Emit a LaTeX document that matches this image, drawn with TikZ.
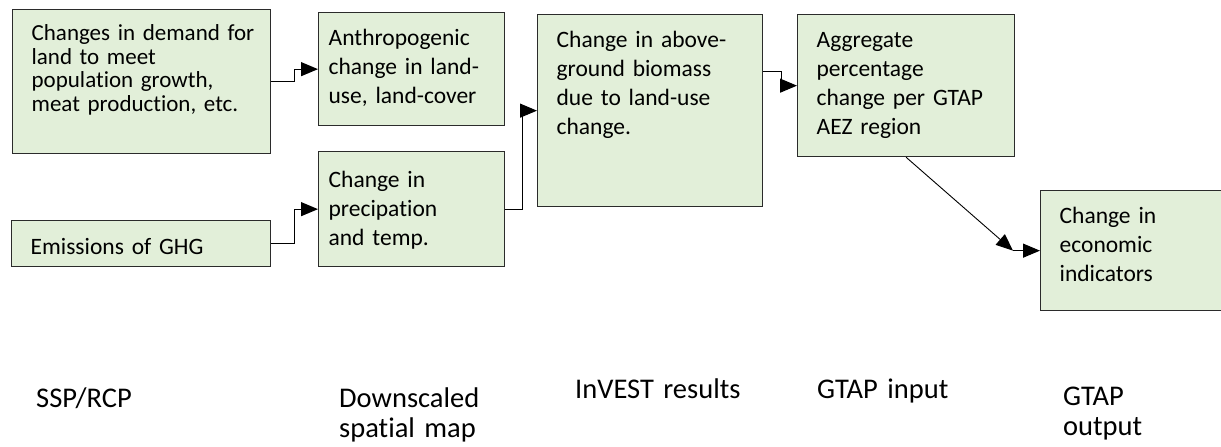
\documentclass[tikz,border=0pt]{standalone}
\usepackage{fontspec}
\setmainfont{Carlito}[Ligatures=NoCommon]
\usetikzlibrary{positioning,arrows.meta,calc}
\definecolor{boxgreen}{HTML}{E2EFD9}
\definecolor{boxline}{HTML}{2B2B2B}
\tikzset{
    block/.style = {
        draw=boxline,
        fill=boxgreen,
        shape=rectangle,
        anchor=north west,
        align=left,
        inner xsep=19pt,
        inner ysep=0pt,
        text height=33pt,
        line width=1.3pt,
        font=\fontsize{23.5}{29}\selectfont
    },
    caption/.style = {
        anchor=base west,
        align=left,
        inner sep=0pt,
        text width=220pt,
        font=\fontsize{28.5}{30}\selectfont
    },
    link/.style = {
        draw,
        ->,
        line width=1.2pt
    },
    >={Triangle[length=17pt,width=14pt]},
}

\begin{document}
\begin{tikzpicture}[x=1pt, y=-1pt]
    \useasboundingbox (0,0) rectangle (1221,447);

    \node[block, text width=220pt, text height=31pt, text depth=113pt, font=\fontsize{23}{23.5}\selectfont] (demand) at (12,9) {\mbox{Changes in demand for}\\land to meet\\population growth,\\\mbox{meat production, etc.}};
    \node[block, text width=221pt, text height=34pt, text depth=12pt] (ghg) at (11,220) {Emissions of GHG};
    \node[block, inner xsep=10pt, text width=166pt, text depth=80pt] (anthro) at (318,12) {Anthropogenic\\change in land-\\use, land-cover};
    \node[block, inner xsep=10pt, text width=166pt, text height=36pt, text depth=79pt] (precip) at (318,151) {Change in\\precipation\\and temp.};
    \node[block, text width=187pt, text depth=159pt] (biomass) at (537,14) {Change in above-\\ground biomass\\due to land-use\\change.};
    \node[block, text width=179pt, text depth=109pt] (agg) at (797,14) {Aggregate\\percentage\\change per GTAP\\AEZ region};
    \node[block, text width=146pt, text depth=87pt] (econ) at (1040,190) {Change in\\economic\\indicators};

    \node[caption] (ssp) at (36,407) {SSP/RCP};
    \node[caption] (downscaled) at (339,407) {Downscaled\\spatial map};
    \node[caption] (invest) at (575,398) {InVEST results};
    \node[caption] (gtapin) at (817,398) {GTAP input};
    \node[caption] (gtapout) at (1063,405) {GTAP\\output};

    \coordinate[left=27pt of econ.west] (knee);

    \path[link] (demand.east) -- ++(23,0) |- (anthro.west);
    \path[link] (ghg.east) -- ++(23,0) |- (precip.west);
    \path[link] (precip.east) -- ++(17,0) |- (biomass.west);
    \path[link] ([yshift=39pt]biomass.east) -- ++(18,0) |- (agg.west);
    \path[link, line width=0.9pt] (agg.south) -- (knee);
    \path[link] (knee) -- (econ.west);
\end{tikzpicture}
\end{document}
